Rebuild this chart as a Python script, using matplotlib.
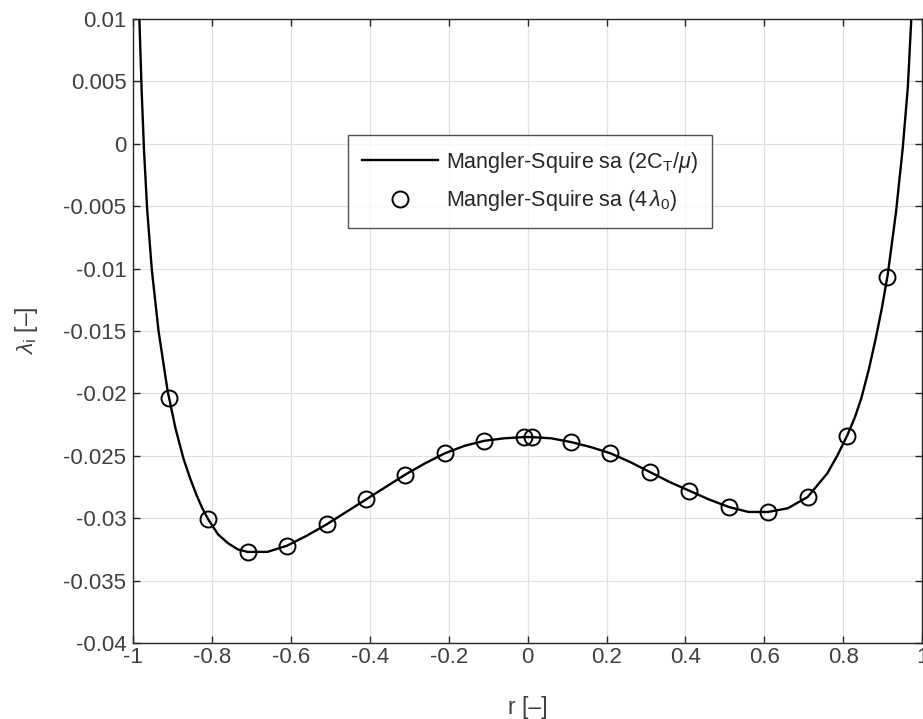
import matplotlib
matplotlib.use("Agg")
import matplotlib.pyplot as plt

plt.rcParams['font.family'] = ['Liberation Sans', 'DejaVu Sans']
plt.rcParams['mathtext.fontset'] = 'custom'
plt.rcParams['mathtext.rm'] = 'Liberation Sans'
plt.rcParams['mathtext.it'] = 'Liberation Sans:italic'

# Curve (2C_T/mu)
r_curve = [-0.985, -0.979, -0.973, -0.965, -0.953, -0.936, -0.913, -0.893, -0.873,
           -0.856, -0.839, -0.825, -0.81, -0.785, -0.76, -0.735, -0.71, -0.66, -0.61,
           -0.56, -0.51, -0.46, -0.41, -0.36, -0.31, -0.26, -0.21, -0.16, -0.11,
           -0.06, -0.01, 0.01, 0.06, 0.11, 0.16, 0.21, 0.26, 0.31, 0.36, 0.41, 0.46,
           0.51, 0.56, 0.61, 0.66, 0.71, 0.76, 0.785, 0.81, 0.83, 0.846, 0.865,
           0.882, 0.898, 0.913, 0.934, 0.951, 0.964, 0.973]
lam_curve = [0.0104, 0.0044, -0.0004, -0.0052, -0.0101, -0.0150, -0.0198, -0.0228, -0.0252,
             -0.0268, -0.0282, -0.0292, -0.0301, -0.0313, -0.0320, -0.0325, -0.0327,
             -0.0327, -0.0322, -0.0314, -0.0305, -0.0295, -0.0285, -0.0275, -0.0265,
             -0.0256, -0.0248, -0.0242, -0.0238, -0.0236, -0.0235, -0.0235, -0.0236,
             -0.0239, -0.0243, -0.0248, -0.0255, -0.0263, -0.0271, -0.0278, -0.0285,
             -0.0291, -0.0295, -0.0295, -0.0292, -0.0283, -0.0264, -0.0250, -0.0234,
             -0.0219, -0.0204, -0.0181, -0.0157, -0.0132, -0.0105, -0.0055, -0.0004,
             0.0045, 0.0101]

# Markers (4 lambda_0)
r_mark = [-0.91, -0.81, -0.71, -0.61, -0.51, -0.41, -0.31, -0.21, -0.11, -0.01,
          0.01, 0.11, 0.21, 0.31, 0.41, 0.51, 0.61, 0.71, 0.81, 0.91]
lam_mark = [-0.0204, -0.0301, -0.0327, -0.0322, -0.0305, -0.0285, -0.0265, -0.0248,
            -0.0238, -0.0235, -0.0235, -0.0239, -0.0248, -0.0263, -0.0278, -0.0291,
            -0.0295, -0.0283, -0.0234, -0.0107]

xticks = [-1, -0.8, -0.6, -0.4, -0.2, 0, 0.2, 0.4, 0.6, 0.8, 1]
xticklabels = ['-1', '-0.8', '-0.6', '-0.4', '-0.2', '0', '0.2', '0.4', '0.6', '0.8', '1']
yticks = [-0.04, -0.035, -0.03, -0.025, -0.02, -0.015, -0.01, -0.005, 0, 0.005, 0.01]
yticklabels = ['-0.04', '-0.035', '-0.03', '-0.025', '-0.02', '-0.015', '-0.01',
               '-0.005', '0', '0.005', '0.01']

fig = plt.figure(figsize=(9.23, 7.19), dpi=100)
ax = fig.add_axes([133.3/923, 1 - 643/719, (922 - 133.3)/923, (643 - 19)/719])

ax.plot(r_curve, lam_curve, color='black', lw=1.7,
        label=r'Mangler-Squire sa (2C$_\mathregular{T}$/$\mu$)')
ax.plot(r_mark, lam_mark, linestyle='none', marker='o', markersize=11.5,
        markerfacecolor='none', markeredgecolor='black', markeredgewidth=1.4,
        label=r'Mangler-Squire sa (4$\,\lambda_\mathregular{0}$)')

ax.set_xlim(-1, 1)
ax.set_ylim(-0.04, 0.01)
ax.set_xticks(xticks)
ax.set_xticklabels(xticklabels)
ax.set_yticks(yticks)
ax.set_yticklabels(yticklabels)
ax.grid(True, color='#e0e0e0', lw=0.9)
ax.set_axisbelow(True)
for s in ax.spines.values():
    s.set_color('#262626')
    s.set_linewidth(1.0)
ax.tick_params(direction='in', length=5, width=1.0, colors='#262626',
               labelsize=16, top=True, right=True, labelcolor='#404040')
ax.tick_params(axis='x', pad=3)
ax.tick_params(axis='y', pad=5)

ax.set_xlabel('r [–]', fontsize=16.5, color='#404040', labelpad=20)
ax.set_ylabel(r'$\lambda_\mathregular{i}$ [–]', fontsize=16.5, color='#404040', labelpad=17)

leg = ax.legend(loc='upper left', bbox_to_anchor=(0.272, 0.814), fontsize=15.5,
                frameon=True, fancybox=False, edgecolor='#262626',
                handlelength=3.5, borderpad=0.68, labelspacing=0.64, handletextpad=0.37,
                borderaxespad=0)
leg.get_frame().set_linewidth(1.0)
for t in leg.get_texts():
    t.set_color('#262626')

fig.savefig('out.png', dpi=100)
